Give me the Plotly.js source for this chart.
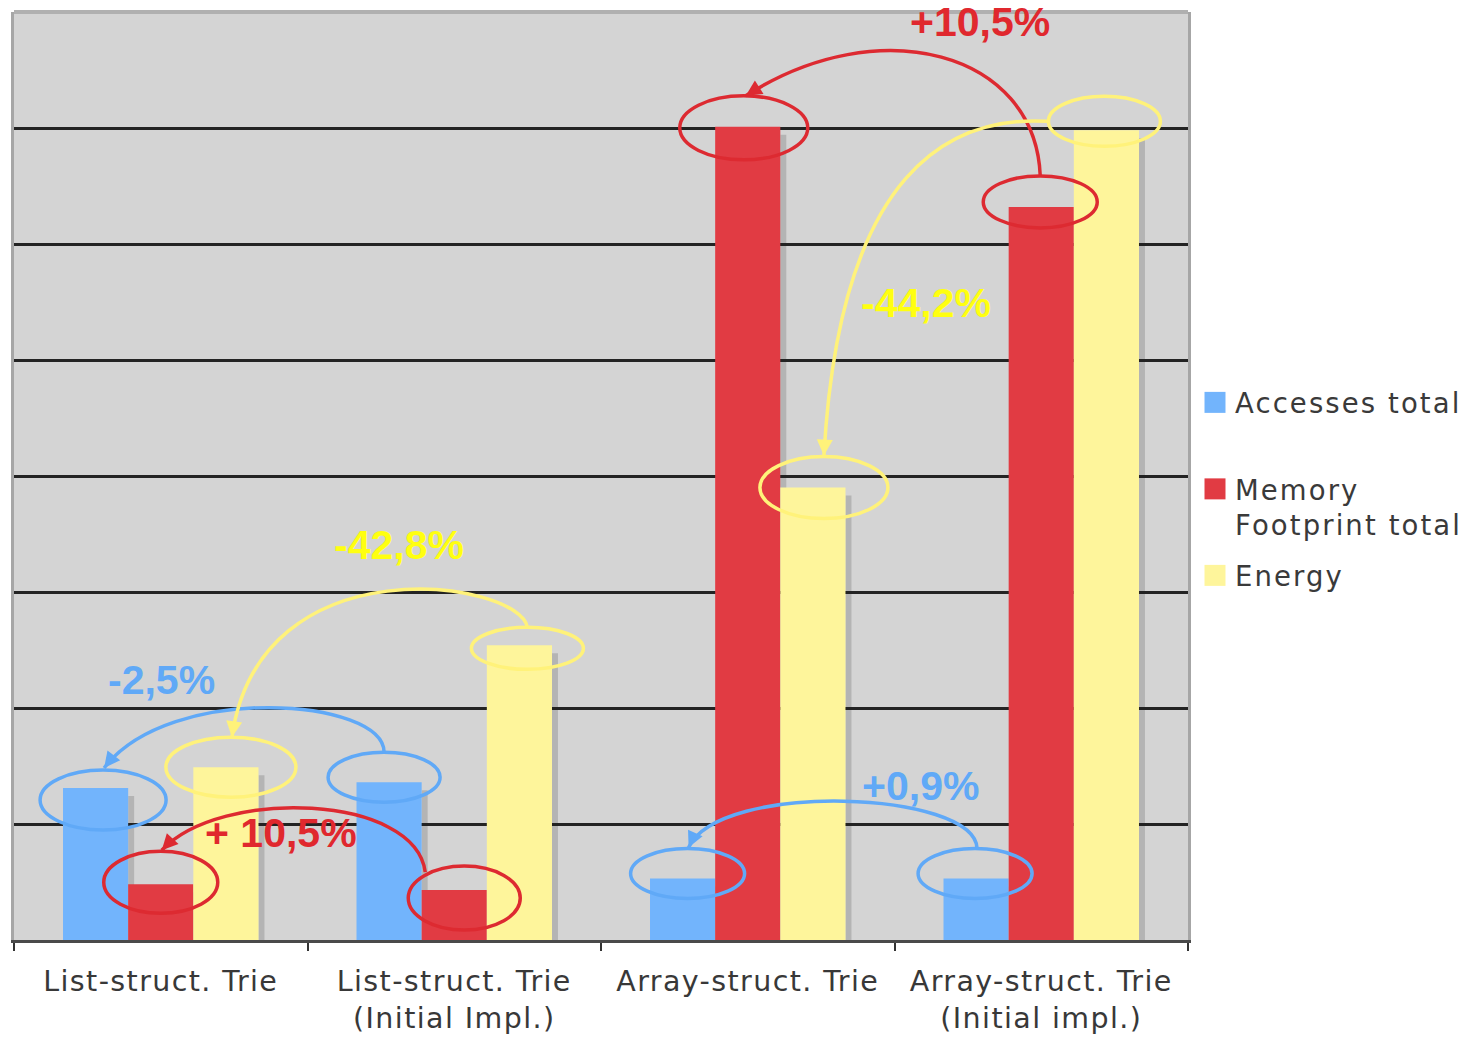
<!DOCTYPE html>
<html><head><meta charset="utf-8">
<script src="https://cdn.plot.ly/plotly-3.0.1.min.js"></script>
<style>
html,body{margin:0;padding:0;background:#fff;}
#chart{width:1467px;height:1037px;}
.xtick text{letter-spacing:1.4px;}
.legendtext{letter-spacing:2.1px;}
</style></head><body><div id="chart"></div>
<script>
// ---- data ----
const categories = ['List-struct. Trie', 'List-struct. Trie<br>(Initial Impl.)', 'Array-struct. Trie', 'Array-struct. Trie<br>(Initial impl.)'];
const accessesTotal = [1.31, 1.36, 0.53, 0.53];
const memoryFootprint = [0.48, 0.43, 7.01, 6.32];
const energy = [1.49, 2.54, 3.90, 6.98];
const seriesNames = ['Accesses total<br>\u00A0', 'Memory<br>Footprint total', 'Energy'];
const gridValues = [1, 2, 3, 4, 5, 6, 7];
const changeLabels = ['-2,5%', '-42,8%', '+ 10,5%', '+0,9%', '+10,5%', '-44,2%'];

// ---- style ----
const barColors = ['#72b4fc', '#e13b43', '#fef59b'];
const markColors = ['#60a9f7', '#dd2a31', '#fff27a'];
const labelColors = ['#60a9f7', '#e0282e', '#ffff10'];

const ML = 14, MT = 12, PW = 1174, PH = 928;
const XR = [-0.5, 3.5], YR = [0, 8];
const BARGAP = 0.334, BW = (1 - BARGAP) / 3;
const seriesVals = [accessesTotal, memoryFootprint, energy];

const px2x = px => XR[0] + (px - ML) / PW * (XR[1] - XR[0]);
const py2y = py => YR[1] - (py - MT) / PH * (YR[1] - YR[0]);
const barX = (c, s) => c + (s - 1) * BW;
const barPx = (c, s) => ML + (barX(c, s) - XR[0]) / (XR[1] - XR[0]) * PW;
const barPy = (c, s) => MT + (YR[1] - seriesVals[s][c]) / (YR[1] - YR[0]) * PH;
const PXY = PH / (YR[1] - YR[0]);

const traces = seriesVals.map((vals, s) => ({
  type: 'bar', x: categories, y: vals, name: seriesNames[s],
  legendgroup: 'g' + s,
  marker: {color: barColors[s], line: {width: 0}},
  hoverinfo: 'none'
}));

const shapes = [];
// soft drop shadow at the right side of every bar (under the traces and grid)
seriesVals.forEach((vals, s) => vals.forEach((v, c) => {
  shapes.push({
    type: 'rect', xref: 'x', yref: 'y', xsizemode: 'pixel',
    xanchor: barX(c, s) + BW / 2, x0: 0, x1: 6,
    y0: 0, y1: v - 8 / PXY,
    fillcolor: 'rgba(0,0,0,0.15)', line: {width: 0}, layer: 'below'
  });
}));

// ellipses: [series, category, dx, dy, rx, ry] relative to bar top (px, dy down)
const ellipses = [
  [0, 0, 7.5, 12, 63, 30],
  [1, 0, 0, -2, 57, 31],
  [2, 0, 5, 0, 65, 30],
  [0, 1, -5, -5, 56, 25],
  [1, 1, 10, 8, 56, 32],
  [2, 1, 8, 3, 56, 21],
  [1, 2, -4, 1, 64, 32],
  [2, 2, 11, 0, 64, 31],
  [0, 2, 5, -5, 57, 25],
  [0, 3, -1, -5, 57, 25],
  [1, 3, -1, -5, 57, 26],
  [2, 3, -2, -9, 56, 25]
];
const ellCenter = i => {
  const e = ellipses[i];
  return [barPx(e[1], e[0]) + e[2], barPy(e[1], e[0]) + e[3]];
};
ellipses.forEach((e, i) => {
  const [s, c, dx, dy, rx, ry] = e;
  shapes.push({
    type: 'circle', xref: 'x', yref: 'y', xsizemode: 'pixel', ysizemode: 'pixel',
    xanchor: barX(c, s), yanchor: seriesVals[s][c],
    x0: dx - rx, x1: dx + rx, y0: -dy - ry, y1: -dy + ry,
    line: {color: markColors[s], width: 3.5}, layer: 'above'
  });
});

// arrows: from ellipse, to ellipse, start offset, end offset, c1 (rel start), c2 (rel end), colour series, label pos
const arrows = [
  {from: 3, to: 0, so: [0, -25], eo: [1, -32], c1: [0, -54], c2: [66, -86], s: 0, lab: [161, 680]},
  {from: 5, to: 2, so: [0, -21], eo: [1, -30], c1: [-8, -47], c2: [28, -196], s: 2, lab: [399, 545]},
  {from: 4, to: 1, so: [-39, -26], eo: [1, -32], c1: [-10, -78], c2: [59, -63], s: 1, lab: [281, 833]},
  {from: 9, to: 8, so: [2, -25], eo: [1, -26], c1: [-2, -58], c2: [31, -67], s: 0, lab: [920, 786]},
  {from: 10, to: 6, so: [0, -26], eo: [2, -32], c1: [-5, -124], c2: [134, -86], s: 1, lab: [980, 22]},
  {from: 11, to: 7, so: [-56, 0], eo: [0, -32], c1: [-98, -6], c2: [16, -286], s: 2, lab: [926, 303]}
];
const annotations = [];
arrows.forEach((a, i) => {
  const A = ellCenter(a.from), B = ellCenter(a.to);
  const P0 = [A[0] + a.so[0], A[1] + a.so[1]];
  const P3 = [B[0] + a.eo[0], B[1] + a.eo[1]];
  const P1 = [P0[0] + a.c1[0], P0[1] + a.c1[1]];
  const P2 = [P3[0] + a.c2[0], P3[1] + a.c2[1]];
  const d = p => px2x(p[0]).toFixed(5) + ',' + py2y(p[1]).toFixed(5);
  shapes.push({
    type: 'path', xref: 'x', yref: 'y',
    path: 'M' + d(P0) + ' C' + d(P1) + ' ' + d(P2) + ' ' + d(P3),
    line: {color: markColors[a.s], width: 3.5}, layer: 'above'
  });
  const vx = P3[0] - P2[0], vy = P3[1] - P2[1], L = Math.hypot(vx, vy), len = 12;
  annotations.push({
    xref: 'x', yref: 'y', x: px2x(P3[0]), y: py2y(P3[1]), text: '',
    showarrow: true, arrowhead: 2, arrowsize: 1, arrowwidth: 3.2, standoff: 0,
    arrowcolor: markColors[a.s], ax: -vx / L * len, ay: -vy / L * len
  });
  annotations.push({
    xref: 'x', yref: 'y', x: px2x(a.lab[0]), y: py2y(a.lab[1]), text: '<b>' + changeLabels[i] + '</b>',
    showarrow: false, xanchor: 'center', yanchor: 'middle',
    font: {family: 'Liberation Sans, Arial, sans-serif', size: 41, color: labelColors[a.s]}
  });
});
// top border of the plot frame
shapes.push({type: 'line', xref: 'paper', yref: 'paper', x0: 0, x1: 1, y0: 1, y1: 1,
  line: {color: '#b0b0b0', width: 4}, layer: 'above'});

const layout = {
  width: 1467, height: 1037,
  margin: {l: ML, r: 1467 - ML - PW, t: MT, b: 1037 - MT - PH, autoexpand: false},
  paper_bgcolor: '#ffffff', plot_bgcolor: '#d4d4d4',
  barmode: 'group', bargap: BARGAP, bargroupgap: 0,
  showlegend: true,
  legend: {
    x: (1195 - ML) / PW, xanchor: 'left', y: (MT + PH - 378) / PH, yanchor: 'top',
    bgcolor: '#ffffff', borderwidth: 0, tracegroupgap: 12, valign: 'top',
    font: {family: 'DejaVu Sans, Verdana, sans-serif', size: 27.5, color: '#3a3a3a'}
  },
  xaxis: {
    type: 'category', range: XR, tickson: 'boundaries', ticks: 'outside', ticklen: 8, tickwidth: 2,
    tickcolor: '#333', showline: true, linecolor: '#4a4a4a', linewidth: 3, showgrid: false,
    ticklabelstandoff: 14,
    tickfont: {family: 'DejaVu Sans, Verdana, sans-serif', size: 28.5, color: '#383838'},
    fixedrange: true
  },
  yaxis: {
    range: YR, tickmode: 'array', tickvals: gridValues, showticklabels: false, ticks: '',
    showgrid: true, gridcolor: '#232323', gridwidth: 3, zeroline: false,
    showline: true, linecolor: '#a6a6a6', linewidth: 3, mirror: true, fixedrange: true
  },
  shapes: shapes, annotations: annotations
};
Plotly.newPlot('chart', traces, layout, {displayModeBar: false, staticPlot: true}).then(gd => {
  // enlarge the legend swatches, keeping plotly's own placement transform
  gd.querySelectorAll('.legendpoints path').forEach(p => {
    const t = p.getAttribute('transform') || '';
    p.setAttribute('transform', t + ' scale(1.75)');
  });
});
</script></body></html>
